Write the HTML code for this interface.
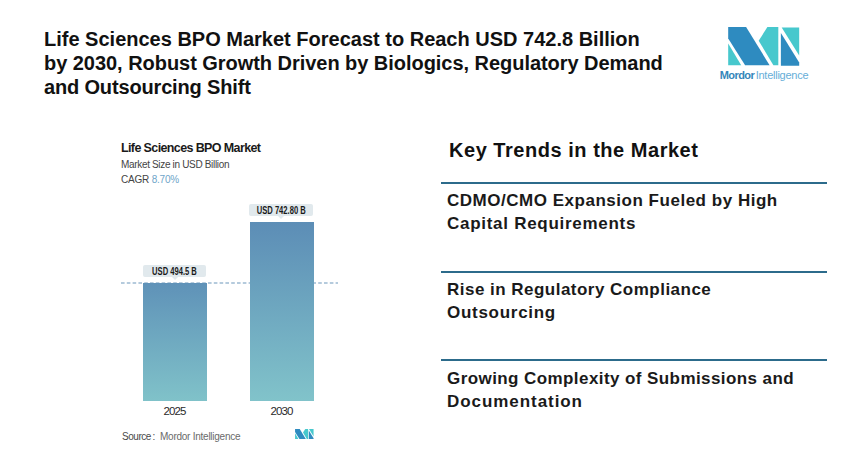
<!DOCTYPE html>
<html><head><meta charset="utf-8">
<style>
html,body{margin:0;padding:0;background:#fff;width:860px;height:459px;overflow:hidden;position:relative;font-family:"Liberation Sans",sans-serif;}
.a{position:absolute;white-space:nowrap;}
.t{font-weight:bold;font-size:20px;line-height:24px;color:#111;left:44px;}
.kt{font-weight:bold;font-size:17px;line-height:22px;color:#1a1a1a;left:447px;}
.hr{position:absolute;left:441px;width:386px;height:2px;background:#2c6b8b;}
.lb{height:12px;background:#e1e9ed;border-radius:2px;font-size:10px;line-height:12.6px;text-align:center;color:#1a1a1a;font-weight:bold}
.lb span{display:inline-block;transform:scaleX(0.76);position:relative;top:1.2px}
.lb i{position:absolute;left:50%;margin-left:-3px;top:12px;width:0;height:0;border-left:3px solid transparent;border-right:3px solid transparent;border-top:3px solid #e2eaee}
</style></head><body>
<div class="a t" id="t1" style="top:27px">Life Sciences BPO Market Forecast to Reach USD 742.8 Billion</div>
<div class="a t" id="t2" style="top:51px;letter-spacing:-0.04px">by 2030, Robust Growth Driven by Biologics, Regulatory Demand</div>
<div class="a t" id="t3" style="top:75px;letter-spacing:-0.16px">and Outsourcing Shift</div>

<svg class="a" style="left:720px;top:20px" width="90" height="50" viewBox="720 20 90 50">
<polygon fill="#2e8bc0" points="728.2,27.1 746.1,27.1 769.6,65.2 745.1,65.2 728.2,38.5"/>
<polygon fill="#47c8cd" points="728.2,43.4 728.2,65.2 741.2,65.2"/>
<polygon fill="#47c8cd" points="767.4,27.1 778.3,27.1 778.3,65.2 773.4,65.2 758.7,40.7"/>
<polygon fill="#47c8cd" points="781.7,27.4 799.2,27.4 799.2,55.6"/>
<polygon fill="#2e8bc0" points="780.9,33.1 780.9,65.7 799.2,65.7 799.2,62.4"/>
</svg>
<div class="a" id="logo" style="left:719.8px;top:69.1px;font-size:11px;line-height:13px;"><span style="font-weight:bold;color:#3586ba;letter-spacing:-0.6px">Mordor</span><span style="color:#66aed8;margin-left:1.6px;letter-spacing:-0.25px">Intelligence</span></div>

<!-- chart -->
<div class="a" id="c1" style="left:121px;top:141px;font-size:12.5px;line-height:15px;letter-spacing:-0.62px;font-weight:bold;color:#1a1a1a">Life Sciences BPO Market</div>
<div class="a" id="c2" style="left:121px;top:159.4px;font-size:10px;letter-spacing:-0.33px;line-height:12px;color:#444">Market Size in USD Billion</div>
<div class="a" id="c3" style="left:121px;top:174.4px;font-size:10px;letter-spacing:-0.2px;line-height:12px;color:#444">CAGR <span style="color:#6fa5c9">8.70%</span></div>

<svg class="a" style="left:118px;top:281px" width="222" height="4"><line x1="3" y1="2" x2="220" y2="2" stroke="#9dbad2" stroke-width="1.4" stroke-dasharray="3.6 2.2"/></svg>
<div class="a" style="left:143px;top:283px;width:64px;height:118px;background:linear-gradient(#5f92b8,#80c2c9)"></div>
<div class="a" style="left:250px;top:222px;width:64px;height:179px;background:linear-gradient(#5c8db6,#81c3ca)"></div>

<div class="a lb" style="left:143px;top:265px;width:63px;"><span id="l1">USD 494.5 B</span><i></i></div>
<div class="a lb" style="left:249px;top:204px;width:64px;"><span id="l2">USD 742.80 B</span><i></i></div>

<div class="a" id="y1" style="left:163.5px;top:404px;font-size:11.5px;line-height:14px;color:#2a2a2a;letter-spacing:-0.9px">2025</div>
<div class="a" id="y2" style="left:270.5px;top:404px;font-size:11.5px;line-height:14px;color:#2a2a2a;letter-spacing:-0.9px">2030</div>

<div class="a" id="src" style="left:122px;top:430.5px;font-size:10px;line-height:12px;color:#4a4a4a;letter-spacing:-0.45px">Source</div>
<div class="a" id="src2" style="left:152.6px;top:430.5px;font-size:10px;line-height:12px;color:#4a4a4a">:</div>
<div class="a" id="src3" style="left:160px;top:430.5px;font-size:10px;line-height:12px;color:#6a6a6a;letter-spacing:-0.25px">Mordor Intelligence</div>
<svg class="a" style="left:295.2px;top:429.1px" width="18.8" height="10.3" viewBox="728 27 72 39" preserveAspectRatio="none">
<polygon fill="#2e8bc0" points="728.2,27.1 746.1,27.1 769.6,65.2 745.1,65.2 728.2,38.5"/>
<polygon fill="#47c8cd" points="728.2,43.4 728.2,65.2 741.2,65.2"/>
<polygon fill="#47c8cd" points="767.4,27.1 778.3,27.1 778.3,65.2 773.4,65.2 758.7,40.7"/>
<polygon fill="#47c8cd" points="781.7,27.4 799.2,27.4 799.2,55.6"/>
<polygon fill="#2e8bc0" points="780.9,33.1 780.9,65.7 799.2,65.7 799.2,62.4"/>
</svg>

<!-- key trends -->
<div class="a" id="kh" style="left:449px;top:137.7px;font-size:20px;line-height:24px;letter-spacing:0.53px;font-weight:bold;color:#111">Key Trends in the Market</div>
<div class="hr" style="top:182px"></div>
<div class="a kt" id="k1" style="letter-spacing:0.52px;top:190px">CDMO/CMO Expansion Fueled by High</div>
<div class="a kt" id="k2" style="letter-spacing:0.72px;top:213px">Capital Requirements</div>
<div class="hr" style="top:271px"></div>
<div class="a kt" id="k3" style="letter-spacing:0.48px;top:279px">Rise in Regulatory Compliance</div>
<div class="a kt" id="k4" style="letter-spacing:0.72px;top:302px">Outsourcing</div>
<div class="hr" style="top:359px"></div>
<div class="a kt" id="k5" style="letter-spacing:0.42px;top:368px">Growing Complexity of Submissions and</div>
<div class="a kt" id="k6" style="letter-spacing:0.94px;top:391px">Documentation</div>
</body></html>
